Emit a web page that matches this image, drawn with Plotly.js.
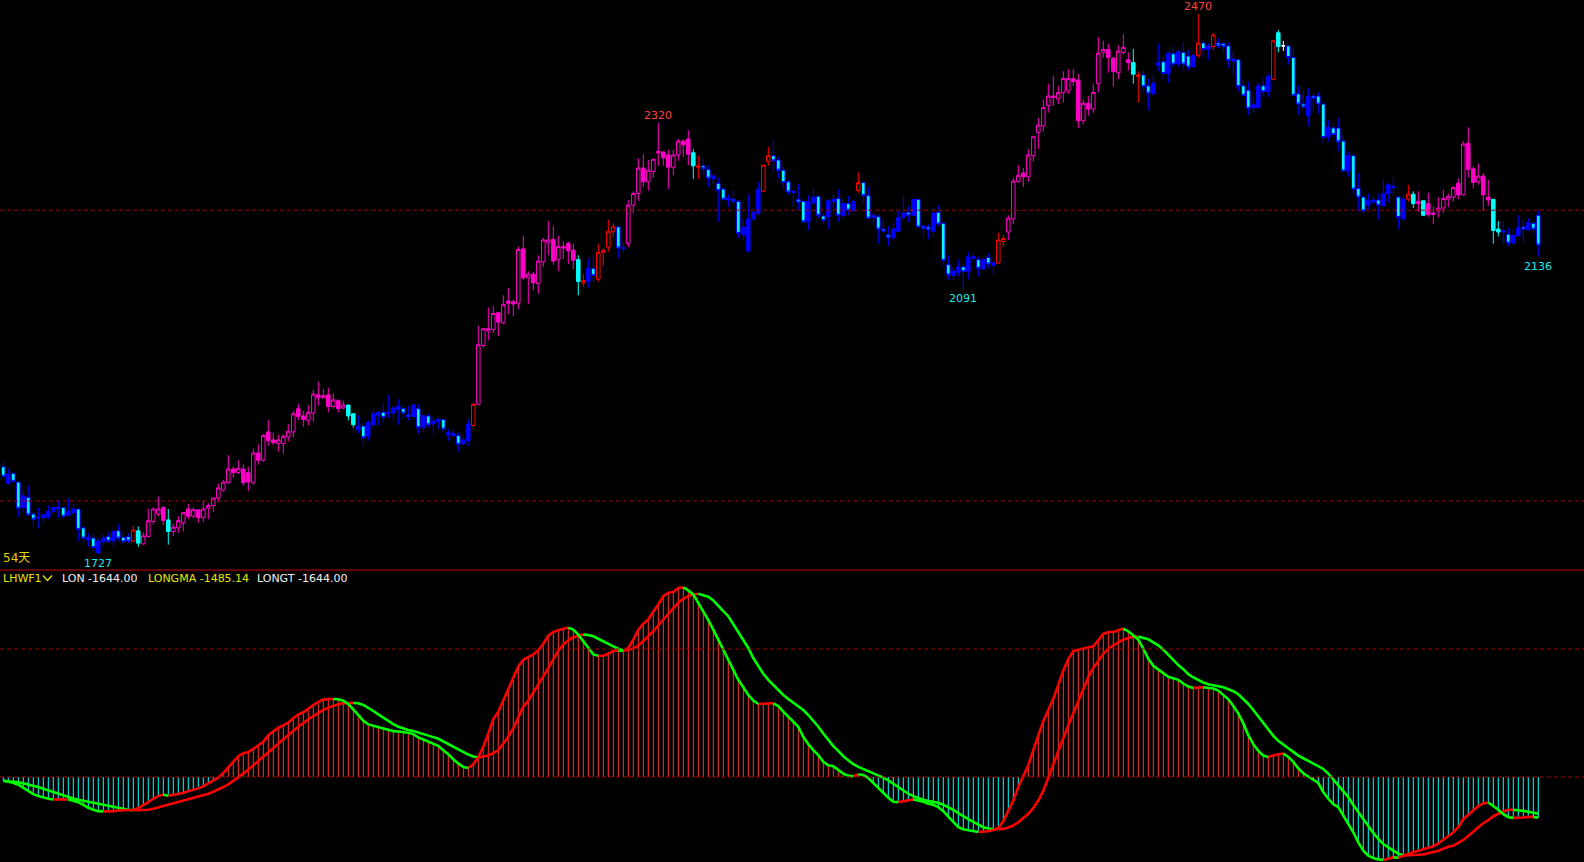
<!DOCTYPE html>
<html><head><meta charset="utf-8">
<script src="https://cdn.plot.ly/plotly-3.0.1.min.js"></script>
<style>html,body{margin:0;padding:0;background:#000;overflow:hidden}#chart{width:1584px;height:862px}</style>
</head><body><div id="chart"></div>
<script>
// candle style per bar: M = magenta trend, B = blue trend, N = neutral (red/cyan), W = white doji
const candleStyle = (
 "BBBBBBBBBB"+"BBBBBBBBBB"+"BBBBBBNNMM"+"MMMNMMMMMM"+"MMMMMMMMMM"+
 "MMMMMMMMMM"+"MMMMMMMMMN"+"NBBBBBBBBB"+"BBBBBBBBBB"+"BBBBNMMMMM"+
 "MMMMMMMMMM"+"MMMMMNNBBN"+"NNNBBMMMMM"+"MMMMMMMMNN"+"BBBBBBBBBB"+
 "BBNNBBBBBB"+"BBBBBBBBBB"+"BNBBBBBBBB"+"BBBBBBBBBB"+"BBBBBBBBBN"+
 "NMMMMMMMMM"+"MMMMMMMMMM"+"MMMMMMNNBB"+"BBBBBBBBBN"+"BBNBBBBBBB"+
 "BBBBNNWBBB"+"BBBBBBBBBB"+"BBBBBBBBBB"+"BNNMNMMMMM"+"MMMMMMMMNN"+
 "BBBBBBBB").split('');

const openPrice = [
1847,1824,1838,1826,1791,1805,1782,1777,1777,1778,
1786,1789,1791,1780,1784,1789,1763,1746,1749,1729,
1744,1751,1745,1759,1750,1751,1745,1759,1741,1751,
1772,1782,1791,1774,1758,1763,1770,1789,1779,1788,
1777,1790,1794,1804,1815,1825,1844,1839,1844,1839,
1825,1866,1856,1895,1884,1879,1879,1888,1895,1927,
1917,1911,1921,1946,1942,1946,1930,1938,1928,1932,
1920,1898,1903,1889,1905,1918,1922,1920,1921,1926,
1927,1919,1916,1927,1901,1917,1906,1909,1912,1891,
1893,1890,1879,1883,1904,1933,2014,2034,2036,2059,
2045,2075,2074,2072,2147,2107,2112,2099,2129,2155,
2160,2132,2150,2154,2145,2132,2100,2102,2120,2105,
2142,2149,2171,2177,2147,2154,2207,2223,2258,2239,
2253,2281,2280,2276,2259,2276,2295,2298,2279,2259,
2261,2256,2243,2237,2229,2214,2215,2212,2166,2144,
2188,2196,2226,2267,2275,2269,2255,2239,2224,2215,
2212,2184,2210,2219,2192,2191,2212,2216,2193,2209,
2199,2227,2238,2220,2190,2191,2174,2166,2162,2171,
2190,2197,2193,2215,2178,2177,2171,2197,2182,2125,
2110,2114,2122,2116,2134,2132,2119,2135,2124,2127,
2157,2170,2188,2239,2251,2246,2275,2307,2316,2344,
2357,2353,2362,2364,2381,2379,2323,2347,2339,2374,
2417,2421,2409,2389,2417,2407,2403,2384,2386,2371,
2360,2399,2404,2388,2415,2401,2417,2412,2397,2413,
2430,2421,2425,2430,2429,2426,2405,2407,2371,2365,
2341,2341,2371,2363,2380,2444,2426,2426,2410,2360,
2346,2330,2357,2357,2346,2301,2313,2313,2295,2254,
2275,2230,2218,2207,2211,2214,2206,2223,2231,2218,
2188,2215,2222,2212,2213,2209,2196,2199,2203,2215,
2218,2237,2221,2292,2257,2239,2247,2218,2215,2174,
2170,2167,2155,2165,2177,2173,2182,2193];

const highPrice = [
1855,1845,1840,1826,1815,1821,1785,1791,1783,1794,
1797,1802,1792,1804,1795,1789,1766,1756,1756,1749,
1754,1757,1762,1768,1756,1756,1766,1765,1757,1789,
1791,1806,1793,1789,1769,1779,1785,1796,1791,1789,
1801,1797,1805,1824,1829,1863,1848,1856,1850,1847,
1872,1878,1892,1911,1894,1891,1892,1906,1924,1934,
1924,1932,1953,1964,1954,1956,1948,1940,1938,1932,
1921,1918,1908,1911,1927,1924,1934,1946,1930,1940,
1932,1931,1933,1933,1919,1920,1916,1914,1913,1899,
1898,1894,1889,1913,1935,2041,2038,2066,2068,2060,
2083,2093,2077,2150,2165,2116,2115,2138,2162,2185,
2178,2165,2157,2157,2154,2138,2112,2134,2138,2154,
2148,2187,2182,2178,2156,2214,2226,2271,2277,2269,
2271,2320,2281,2283,2283,2298,2297,2310,2284,2275,
2270,2262,2250,2245,2231,2222,2228,2214,2187,2222,
2203,2239,2262,2287,2298,2273,2261,2242,2228,2236,
2215,2221,2230,2220,2196,2215,2222,2229,2215,2220,
2215,2252,2240,2233,2198,2194,2187,2178,2183,2199,
2219,2206,2215,2215,2180,2181,2203,2207,2182,2138,
2121,2132,2128,2142,2142,2136,2135,2141,2129,2169,
2166,2193,2244,2262,2258,2284,2302,2327,2352,2374,
2385,2371,2391,2394,2394,2387,2352,2357,2374,2438,
2433,2429,2411,2427,2442,2417,2422,2391,2393,2381,
2386,2429,2410,2418,2426,2420,2432,2421,2416,2470,
2433,2430,2444,2436,2432,2431,2418,2407,2381,2377,
2354,2375,2381,2388,2433,2448,2433,2427,2423,2371,
2364,2368,2361,2363,2347,2324,2320,2326,2303,2281,
2277,2251,2219,2223,2220,2223,2242,2237,2245,2219,
2221,2235,2226,2226,2213,2224,2205,2218,2228,2223,
2233,2244,2295,2314,2260,2264,2251,2242,2215,2185,
2185,2176,2174,2193,2187,2189,2183,2200];

const lowPrice = [
1833,1823,1826,1778,1784,1780,1765,1762,1770,1775,
1781,1777,1776,1779,1779,1745,1743,1737,1730,1727,
1738,1742,1737,1745,1742,1742,1743,1737,1740,1750,
1768,1779,1767,1740,1752,1756,1758,1775,1776,1770,
1771,1775,1785,1798,1813,1824,1832,1837,1821,1814,
1822,1850,1854,1876,1877,1868,1865,1882,1888,1911,
1902,1904,1909,1931,1941,1922,1927,1922,1926,1911,
1901,1893,1876,1883,1901,1904,1908,1914,1912,1905,
1913,1911,1913,1893,1895,1901,1894,1899,1894,1883,
1888,1868,1876,1876,1902,1933,2011,2021,2031,2027,
2043,2057,2054,2064,2104,2071,2090,2085,2122,2138,
2125,2116,2133,2126,2119,2083,2095,2094,2102,2102,
2124,2143,2164,2135,2141,2149,2196,2213,2232,2227,
2245,2261,2261,2229,2248,2268,2273,2262,2243,2243,
2248,2232,2236,2184,2212,2204,2206,2162,2159,2142,
2185,2193,2225,2261,2251,2244,2229,2221,2205,2200,
2182,2172,2207,2189,2181,2174,2203,2184,2188,2193,
2198,2224,2210,2188,2182,2154,2166,2151,2158,2170,
2186,2184,2191,2177,2163,2160,2163,2178,2124,2104,
2103,2109,2091,2105,2129,2109,2118,2120,2112,2126,
2150,2159,2181,2238,2232,2239,2267,2284,2308,2334,
2343,2346,2348,2360,2371,2313,2318,2330,2334,2362,
2410,2389,2370,2380,2414,2392,2374,2348,2363,2337,
2357,2391,2380,2375,2395,2397,2391,2392,2397,2410,
2409,2407,2420,2423,2417,2396,2386,2363,2355,2331,
2334,2340,2356,2356,2379,2417,2419,2400,2357,2332,
2339,2315,2336,2333,2292,2294,2300,2281,2254,2246,
2221,2198,2194,2201,2209,2187,2205,2210,2221,2174,
2185,2212,2203,2198,2192,2191,2181,2190,2196,2204,
2212,2215,2220,2245,2230,2235,2199,2206,2154,2164,
2154,2150,2152,2165,2155,2172,2167,2136];

const closePrice = [
1834,1837,1827,1790,1807,1781,1775,1778,1781,1786,
1791,1791,1779,1786,1789,1761,1749,1750,1736,1745,
1749,1745,1758,1749,1744,1745,1760,1742,1752,1773,
1789,1789,1773,1758,1764,1773,1784,1779,1788,1777,
1789,1794,1804,1818,1826,1844,1839,1845,1825,1826,
1866,1856,1890,1883,1880,1884,1889,1896,1920,1916,
1912,1922,1947,1942,1945,1930,1939,1927,1932,1917,
1905,1903,1887,1908,1920,1922,1915,1922,1928,1930,
1921,1916,1932,1901,1917,1905,1910,1912,1899,1894,
1890,1878,1884,1906,1933,2015,2037,2037,2058,2046,
2070,2072,2071,2146,2107,2112,2100,2130,2159,2159,
2130,2150,2148,2144,2131,2102,2103,2120,2110,2142,
2145,2171,2177,2148,2148,2207,2223,2258,2239,2255,
2270,2279,2272,2259,2276,2295,2290,2277,2261,2261,
2257,2244,2247,2227,2215,2217,2212,2168,2176,2188,
2197,2229,2262,2275,2268,2255,2238,2225,2226,2211,
2184,2212,2218,2193,2186,2213,2215,2193,2209,2200,
2212,2238,2220,2189,2193,2174,2171,2162,2174,2190,
2196,2193,2215,2177,2175,2173,2196,2181,2131,2111,
2116,2122,2116,2136,2136,2120,2132,2126,2128,2159,
2161,2189,2240,2248,2246,2276,2301,2317,2341,2357,
2355,2362,2381,2381,2377,2323,2347,2339,2362,2416,
2421,2410,2391,2419,2424,2403,2387,2386,2370,2361,
2375,2403,2388,2416,2401,2418,2401,2397,2413,2430,
2421,2426,2441,2426,2425,2406,2408,2370,2358,2340,
2345,2371,2363,2384,2433,2425,2426,2410,2358,2346,
2342,2357,2354,2346,2300,2314,2304,2294,2254,2275,
2229,2218,2199,2214,2214,2207,2223,2235,2233,2190,
2215,2222,2209,2209,2193,2194,2194,2203,2216,2219,
2231,2221,2291,2256,2238,2247,2221,2214,2172,2170,
2172,2155,2165,2176,2174,2183,2174,2152];

const lonValues = [
-149,-176,-230,-311,-432,-567,-689,-770,-837,-878,
-905,-905,-905,-905,-945,-1013,-1121,-1242,-1323,-1377,
-1391,-1391,-1377,-1350,-1350,-1350,-1323,-1256,-1148,-1013,
-878,-770,-716,-756,-729,-689,-635,-581,-513,-459,
-378,-270,-162,-27,162,378,608,837,959,999,
1134,1269,1418,1688,1850,1985,2079,2187,2363,2525,
2606,2768,2903,3024,3119,3146,3146,3132,3078,2943,
2727,2498,2268,2120,2066,1998,1931,1877,1850,1836,
1823,1782,1728,1593,1512,1418,1350,1256,1080,918,
716,540,405,365,513,810,1215,1755,2322,2633,
3105,3578,4050,4455,4725,4833,4941,5103,5373,5697,
5846,5913,5981,6021,5940,5738,5468,5198,4941,4887,
4887,4968,5076,5103,5090,5198,5535,5940,6183,6345,
6669,6953,7290,7425,7452,7614,7641,7520,7358,7020,
6683,6318,5940,5535,5103,4725,4320,3915,3618,3308,
3078,2943,2943,2970,2970,2862,2633,2430,2255,2025,
1620,1323,1080,878,608,473,432,297,135,54,
27,108,81,-41,-243,-432,-648,-837,-999,-1013,
-972,-918,-905,-945,-999,-1080,-1121,-1215,-1377,-1593,
-1823,-2025,-2106,-2147,-2160,-2214,-2214,-2187,-2133,-2052,
-1782,-1377,-945,-405,68,473,1080,1700,2250,2700,
3150,3713,4293,4752,5076,5130,5171,5198,5265,5508,
5765,5846,5846,5913,5981,5873,5711,5535,5171,4766,
4482,4320,4185,4037,3969,3915,3767,3645,3591,3591,
3618,3591,3564,3483,3321,3132,2862,2565,2160,1688,
1323,1053,864,810,878,918,945,810,608,351,
149,30,-95,-243,-608,-878,-1094,-1215,-1553,-1890,
-2228,-2633,-2970,-3173,-3267,-3321,-3348,-3294,-3240,-3254,
-3173,-3105,-3024,-2970,-2916,-2876,-2795,-2673,-2538,-2390,
-2228,-2025,-1701,-1512,-1350,-1175,-1067,-1026,-1161,-1323,
-1499,-1620,-1647,-1647,-1634,-1607,-1607,-1644];

const longmaValues = [
-149,-162,-189,-216,-257,-297,-351,-405,-473,-540,
-621,-689,-756,-810,-864,-918,-959,-999,-1053,-1094,
-1134,-1175,-1215,-1269,-1296,-1323,-1337,-1337,-1337,-1323,
-1283,-1229,-1161,-1107,-1053,-999,-945,-891,-837,-783,
-743,-675,-594,-513,-405,-297,-162,-27,135,297,
473,635,810,986,1161,1350,1539,1701,1863,2025,
2187,2322,2457,2592,2700,2795,2876,2930,2970,2984,
2984,2970,2903,2795,2660,2525,2390,2255,2133,2025,
1944,1890,1850,1796,1742,1674,1607,1539,1431,1323,
1215,1107,999,905,824,783,810,864,959,1080,
1350,1620,1958,2430,2835,3078,3402,3713,4050,4388,
4752,5090,5333,5508,5630,5697,5738,5724,5670,5562,
5468,5373,5265,5171,5103,5117,5184,5292,5481,5670,
5873,6116,6345,6588,6818,7020,7182,7290,7358,7385,
7331,7263,7115,6885,6683,6480,6170,5873,5535,5198,
4793,4455,4158,3915,3713,3483,3308,3146,2997,2835,
2700,2498,2268,2025,1755,1485,1242,1053,837,675,
513,405,324,243,162,81,-27,-135,-270,-405,
-540,-675,-770,-851,-918,-972,-999,-1040,-1121,-1215,
-1323,-1458,-1593,-1701,-1809,-1917,-2025,-2079,-2106,-2106,
-2093,-2039,-1958,-1823,-1647,-1485,-1250,-950,-550,-50,
500,1050,1593,2079,2565,3038,3537,4023,4388,4698,
4968,5171,5306,5427,5535,5603,5657,5657,5616,5549,
5427,5306,5130,4928,4698,4509,4347,4145,4010,3902,
3807,3740,3686,3659,3618,3551,3456,3335,3159,2943,
2700,2430,2160,1890,1661,1458,1296,1161,1013,864,
756,648,554,459,324,135,-95,-338,-567,-810,
-1134,-1418,-1715,-1998,-2255,-2498,-2700,-2835,-2970,-3092,
-3159,-3159,-3146,-3132,-3119,-3078,-3024,-2970,-2889,-2808,
-2768,-2660,-2538,-2376,-2187,-2025,-1863,-1742,-1580,-1472,
-1391,-1323,-1323,-1337,-1364,-1404,-1445,-1485.14];

// marked extremes: candle index and which price is labelled
const markIndex = [239, 131, 192, 19, 307];
const markKind  = ['high','high','low','low','low'];
const priceLevels = [2200, 1800];
const indicatorLevels = [0, 5157];
const daysLabel = '54天';
const indicatorName = 'LHWF1';

const N = openPrice.length;
const idx = openPrice.map((_, k) => k);
const traces = [];

function candle(code, inc, dec) {
  const pick = a => a.map((v, k) => candleStyle[k] === code ? v : null);
  return {
    type: 'candlestick', x: idx, xaxis: 'x', yaxis: 'y',
    open: pick(openPrice), high: pick(highPrice), low: pick(lowPrice), close: pick(closePrice),
    increasing: {line: {color: inc[0], width: 1}, fillcolor: inc[1]},
    decreasing: {line: {color: dec[0], width: 1}, fillcolor: dec[1]},
    whiskerwidth: 0, hoverinfo: 'skip', showlegend: false
  };
}
const MAG = '#ff00c8';
traces.push(candle('M', [MAG, 'rgba(0,0,0,0)'], [MAG, MAG]));
traces.push(candle('B', ['#0000ff', '#0000ff'], ['#0000ff', '#00ffff']));
traces.push(candle('N', ['#ff0000', 'rgba(0,0,0,0)'], ['#00ffff', '#00ffff']));
traces.push(candle('W', ['#ffffff', '#ffffff'], ['#ffffff', '#ffffff']));

// histogram of LON
const px = [], py = [], nx = [], ny = [];
lonValues.forEach((v, k) => {
  if (v >= 0) { px.push(k, k, null); py.push(0, v, null); }
  else { nx.push(k, k, null); ny.push(0, v, null); }
});
traces.push({type: 'scatter', mode: 'lines', x: px, y: py, xaxis: 'x2', yaxis: 'y2',
  line: {color: '#ff3030', width: 1}, hoverinfo: 'skip', connectgaps: false});
traces.push({type: 'scatter', mode: 'lines', x: nx, y: ny, xaxis: 'x2', yaxis: 'y2',
  line: {color: '#00ffff', width: 1}, hoverinfo: 'skip', connectgaps: false});

// lines coloured red while rising, green while falling
function colouredLine(vals, width) {
  const r = {x: [], y: []}, g = {x: [], y: []};
  let k = 1;
  while (k < vals.length) {
    const up = vals[k] >= vals[k - 1];
    const s = k - 1;
    while (k < vals.length && (vals[k] >= vals[k - 1]) === up) k++;
    const t = up ? r : g;
    for (let j = s; j < k; j++) { t.x.push(j); t.y.push(vals[j]); }
    t.x.push(null); t.y.push(null);
  }
  return [r, g].map((t, n) => ({type: 'scatter', mode: 'lines', x: t.x, y: t.y, xaxis: 'x2', yaxis: 'y2',
    line: {color: n === 0 ? '#ff0000' : '#00ff00', width: width}, hoverinfo: 'skip', connectgaps: false}));
}
traces.push(...colouredLine(longmaValues, 2.6));
traces.push(...colouredLine(lonValues, 2.6));

const W = 1584, H = 862, SPLIT = 570;
const split = 1 - SPLIT / H;
const xr = [-0.66, 316.14];

const shapes = [];
priceLevels.forEach(p => shapes.push({type: 'line', xref: 'paper', x0: 0, x1: 1, yref: 'y', y0: p, y1: p,
  line: {color: '#a00000', width: 1, dash: '4px,3px'}}));
indicatorLevels.forEach(p => shapes.push({type: 'line', xref: 'paper', x0: 0, x1: 1, yref: 'y2', y0: p, y1: p,
  line: {color: '#a00000', width: 1, dash: '4px,3px'}}));
shapes.push({type: 'line', xref: 'paper', x0: 0, x1: 1, yref: 'paper', y0: split, y1: split,
  line: {color: '#c00000', width: 1}});
const pxp = (x, y) => (x / W).toFixed(5) + ',' + (1 - y / H).toFixed(5);
shapes.push({type: 'path', xref: 'paper', yref: 'paper',
  path: 'M' + pxp(43, 575.5) + ' L' + pxp(47.5, 580.5) + ' L' + pxp(52, 575.5),
  line: {color: '#e6e600', width: 1.3}});

const F = 'DejaVu Sans, Noto Sans CJK SC, sans-serif';
const annotations = markIndex.map((k, n) => {
  const hi = markKind[n] === 'high';
  const v = hi ? highPrice[k] : lowPrice[k];
  return {x: k, y: v, xref: 'x', yref: 'y', text: String(v), showarrow: false,
    xanchor: 'center', yanchor: hi ? 'bottom' : 'top', yshift: hi ? -1 : -1,
    font: {family: F, size: 11, color: hi ? '#ff4040' : '#20e6e6'}};
});
const lastLon = lonValues[N - 1], lastMa = longmaValues[N - 1];
const labelRow = [
  [1, indicatorName, '#e6e600'],
  [60, 'LON ' + lastLon.toFixed(2), '#f0f0f0'],
  [146, 'LONGMA ' + lastMa.toFixed(2), '#e6e600'],
  [255, 'LONGT ' + lastLon.toFixed(2), '#f0f0f0']
];
labelRow.forEach(([x, t, c]) => annotations.push({xref: 'paper', yref: 'paper', x: x / W, y: 1 - 578 / H,
  xanchor: 'left', yanchor: 'middle', text: t, showarrow: false, font: {family: F, size: 11, color: c}}));
annotations.push({xref: 'paper', yref: 'paper', x: 1 / W, y: 1 - 558 / H, xanchor: 'left', yanchor: 'middle',
  text: daysLabel, showarrow: false, font: {family: F, size: 12, color: '#e6d200'}});

const hidden = {visible: false, showgrid: false, zeroline: false, fixedrange: true};
const layout = {
  width: W, height: H, margin: {l: 0, r: 0, t: 0, b: 0, pad: 0},
  paper_bgcolor: '#000', plot_bgcolor: '#000', showlegend: false,
  boxgap: 0.3, boxgroupgap: 0,
  xaxis: Object.assign({}, hidden, {range: xr, domain: [0, 1], anchor: 'y', rangeslider: {visible: false}}),
  yaxis: Object.assign({}, hidden, {range: [1705.1, 2489.1], domain: [split, 1], anchor: 'x'}),
  xaxis2: Object.assign({}, hidden, {range: xr, domain: [0, 1], anchor: 'y2'}),
  yaxis2: Object.assign({}, hidden, {range: [-3426, 8342], domain: [0, split], anchor: 'x2'}),
  shapes: shapes, annotations: annotations
};
Plotly.newPlot('chart', traces, layout, {staticPlot: true, displayModeBar: false});
</script></body></html>
